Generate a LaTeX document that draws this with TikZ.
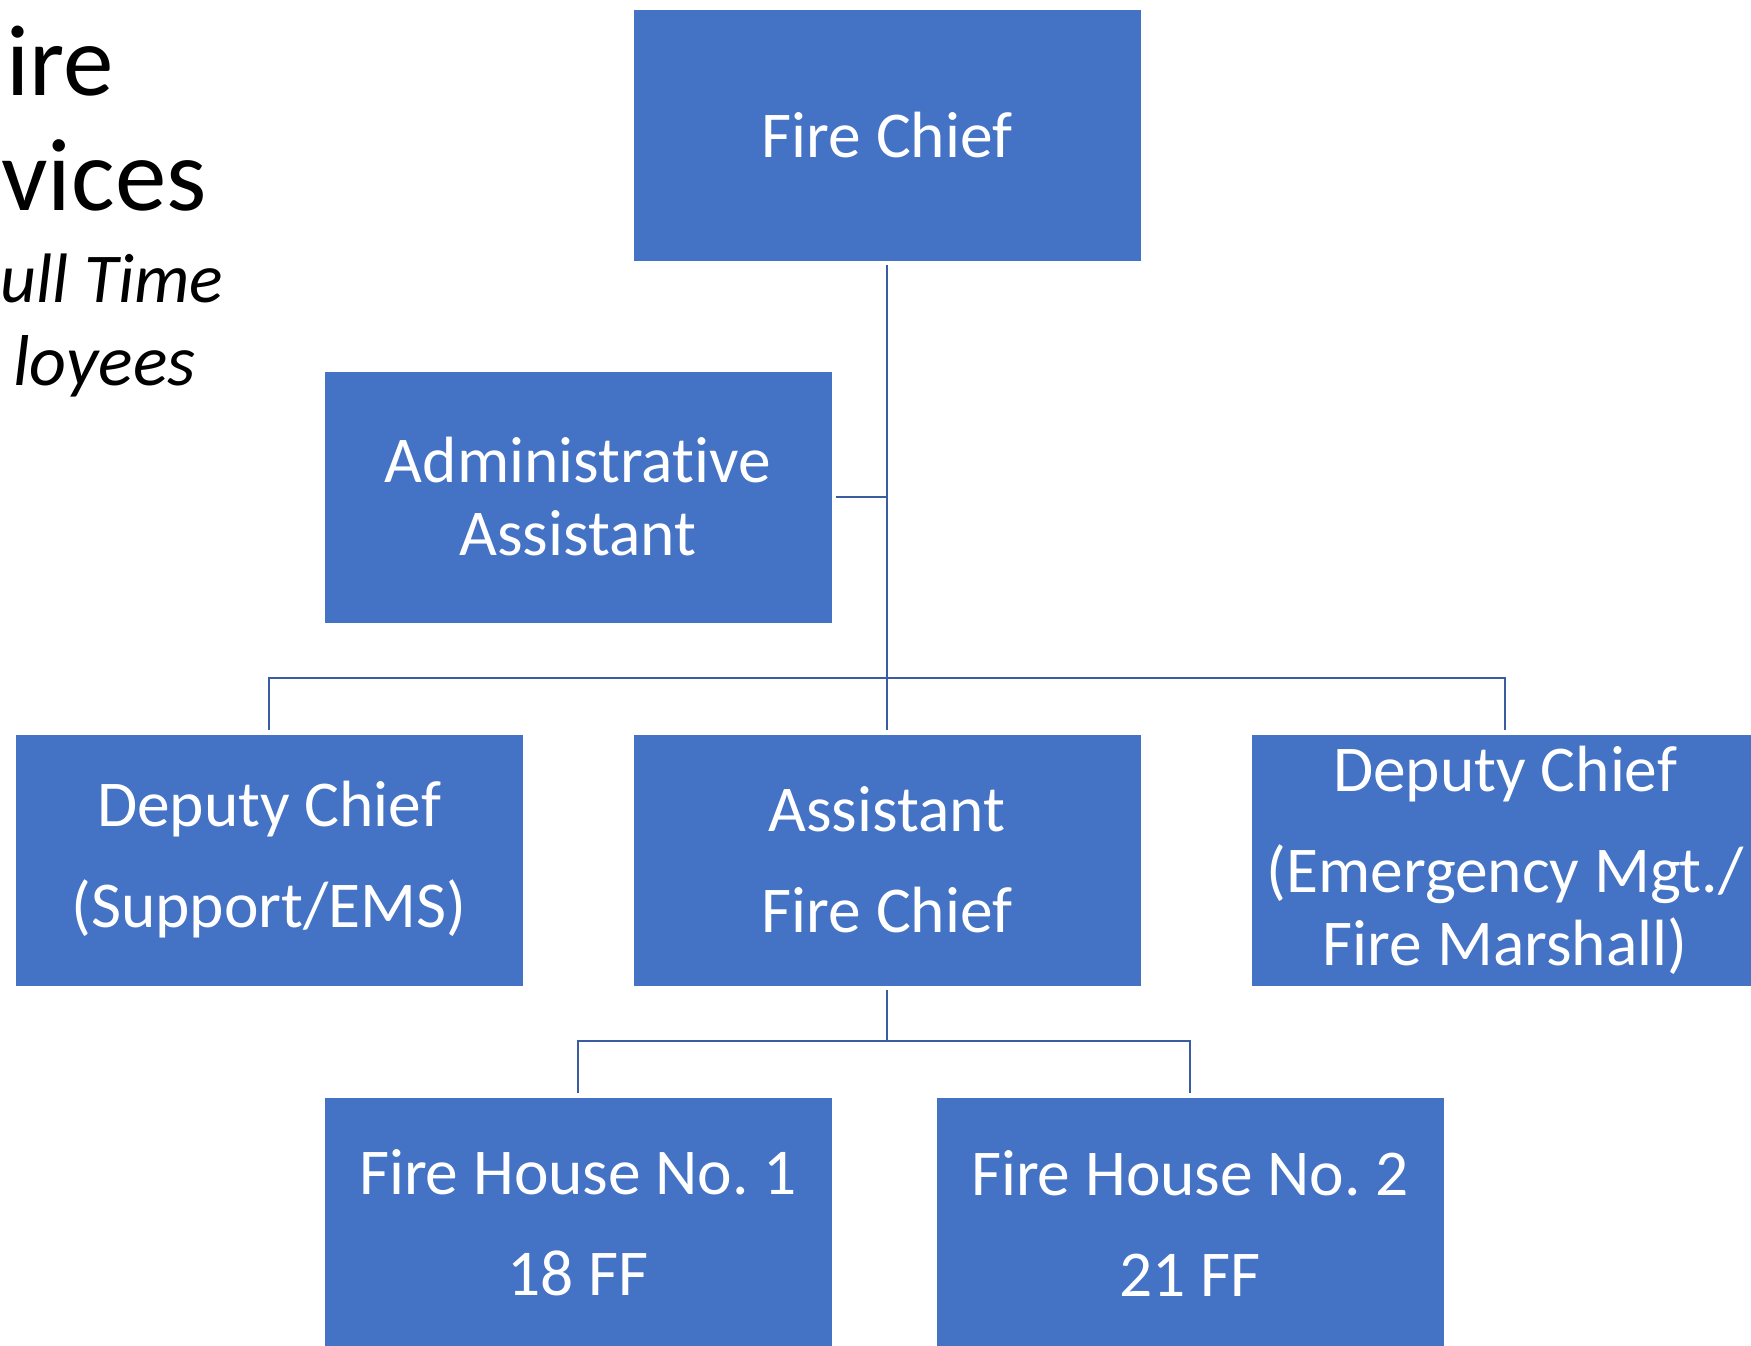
\documentclass[tikz,border=0pt]{standalone}
\usepackage{fontspec}
\setmainfont{Carlito}[Ligatures={NoCommon}]
\definecolor{boxblue}{HTML}{4472C4}
\definecolor{linkblue}{HTML}{3B5CA0}
\begin{document}
\frenchspacing
\begin{tikzpicture}[x=0.5pt,y=-0.5pt,
  orgbox/.style={rectangle, fill=boxblue, draw=white, line width=0.4pt,
    minimum width=254pt, minimum height=126pt, inner sep=0pt,
    text=white, align=center, font=\fontsize{32.7}{36.5}\selectfont},
  conn/.style={draw=linkblue, line width=1.25pt, shorten <=2pt, shorten >=2pt},
  ttl/.style={anchor=base west, inner sep=0pt, text=black},
]
\clip (0,0) rectangle (1751,1345);
\fill[white] (0,0) rectangle (1751,1345);

% title fragments
\node[ttl, font=\fontsize{50.5}{50}\selectfont] (t1) at (6,95) {ire};
\node[ttl, font=\fontsize{51.5}{50}\selectfont] (t2) at (1,210) {vices};
\node[ttl, font=\itshape\fontsize{35}{36}\selectfont] (t3) at (0,302) {ull Time};
\node[ttl, font=\itshape\fontsize{36}{36}\selectfont] (t4) at (13,385) {loyees};

% boxes
\node[orgbox] (fc) at (887,135) {Fire Chief};
\node[orgbox] (aa) at (578,497) {Administrative\\Assistant};
\node[orgbox] (dl) at (269,860) {Deputy Chief\\[14pt](Support/EMS)};
\node[orgbox] (ac) at (887,860) {Assistant\\[14pt]Fire Chief};
\node[orgbox] (dr) at (1505,860) {Deputy Chief\\[14pt](Emergency Mgt./\\Fire Marshall)};
\node[orgbox] (f1) at (578,1223) {Fire House No. 1\\[14pt]18 FF};
\node[orgbox] (f2) at (1190,1223) {Fire House No. 2\\[14pt]21 FF};

% connectors
\coordinate (b1) at (887,678);
\coordinate (b2) at (887,1041);
\draw[conn] (fc.south) -- (ac.north);
\draw[conn, shorten >=0pt] (aa.east) -- (aa.east -| fc.south);
\draw[conn] (dl.north) |- (b1) -| (dr.north);
\draw[conn, shorten >=0pt] (ac.south) -- (b2);
\draw[conn] (f1.north) |- (b2) -| (f2.north);
\end{tikzpicture}
\end{document}
